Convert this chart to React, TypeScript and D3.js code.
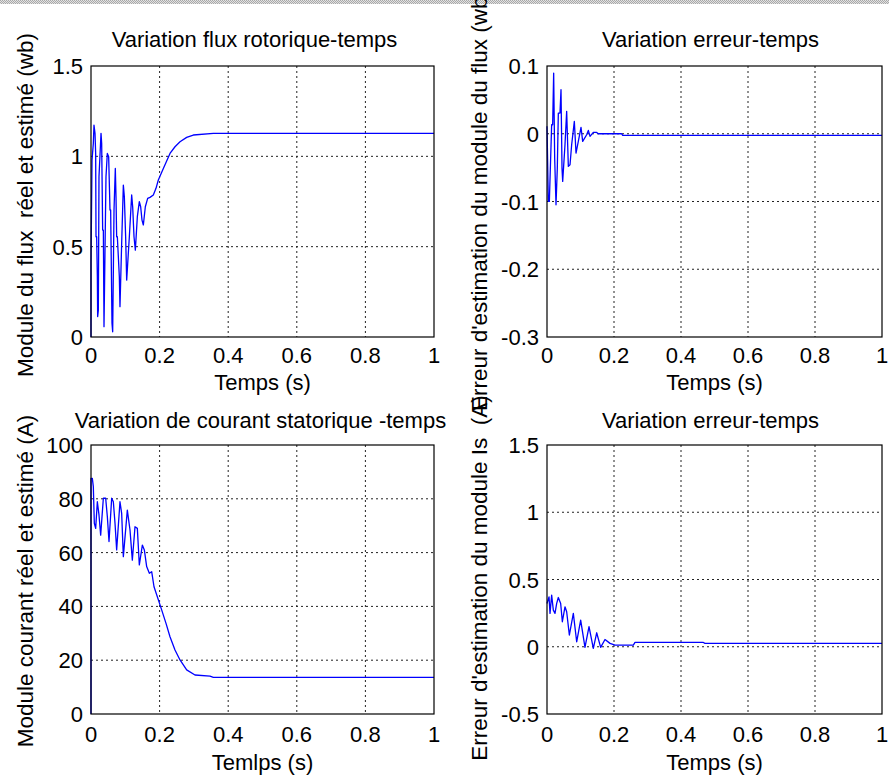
import React from 'react';
import * as d3 from 'd3';

// ---------- data ----------
const timeTicks = [0, 0.2, 0.4, 0.6, 0.8, 1];
const fluxTicks = [0, 0.5, 1, 1.5];
const fluxErrTicks = [-0.3, -0.2, -0.1, 0, 0.1];
const currTicks = [0, 20, 40, 60, 80, 100];
const currErrTicks = [-0.5, 0, 0.5, 1, 1.5];

const fluxTime = [0, 0, 0.003, 0.0068, 0.0087, 0.0117, 0.0136, 0.0146, 0.0165, 0.0185, 0.0194, 0.0214, 0.0233, 0.0292, 0.0311, 0.034, 0.036, 0.0379, 0.0437, 0.0476, 0.0515, 0.0554, 0.0573, 0.0612, 0.0632, 0.0671, 0.0709, 0.0729, 0.0748, 0.0768, 0.0826, 0.0845, 0.0894, 0.0943, 0.0972, 0.101, 0.104, 0.1118, 0.1186, 0.1215, 0.1254, 0.1293, 0.1351, 0.1409, 0.1448, 0.1487, 0.1526, 0.1584, 0.1652, 0.172, 0.1817, 0.1895, 0.1963, 0.2109, 0.2303, 0.2449, 0.2595, 0.2789, 0.2983, 0.3567, 1];
const fluxValue = [0, 0.408, 0.98, 1.072, 1.173, 1.127, 1.016, 0.555, 0.555, 0.334, 0.113, 0.149, 0.887, 1.127, 1.072, 0.592, 0.592, 0.057, 0.887, 1.016, 0.998, 0.703, 0.703, 0.076, 0.029, 0.703, 0.933, 0.777, 0.555, 0.555, 0.334, 0.168, 0.518, 0.841, 0.777, 0.555, 0.315, 0.555, 0.786, 0.721, 0.555, 0.481, 0.666, 0.749, 0.721, 0.647, 0.62, 0.721, 0.767, 0.773, 0.786, 0.823, 0.869, 0.933, 1.016, 1.053, 1.081, 1.105, 1.118, 1.127, 1.127];

const fluxErrTime = [0, 0.004, 0.007, 0.0139, 0.0169, 0.0199, 0.0229, 0.0269, 0.0308, 0.0338, 0.0388, 0.0418, 0.0448, 0.0468, 0.0537, 0.0587, 0.0637, 0.0687, 0.0736, 0.0816, 0.0866, 0.0935, 0.1015, 0.1065, 0.1184, 0.1234, 0.1284, 0.1383, 0.1483, 0.1532, 0.2229, 0.2259, 1];
const fluxErrValue = [0.011, -0.0999, -0.0999, 0.0133, 0.0133, 0.0896, -0.0359, -0.1048, -0.0507, 0.0305, 0.0305, 0.065, -0.0507, -0.0704, -0.0162, 0.033, -0.0482, -0.0458, -0.0162, 0.0182, -0.0285, -0.0113, 0.0094, -0.0113, -0.0015, 0.0049, -0.0039, 0.002, 0.002, 0, 0, -0.0025, -0.0025];

const currTime = [0, 0, 0.0039, 0.0068, 0.0097, 0.0136, 0.0185, 0.0233, 0.0282, 0.036, 0.0428, 0.0476, 0.0525, 0.0603, 0.0651, 0.07, 0.0748, 0.0845, 0.0894, 0.0943, 0.1059, 0.1137, 0.1205, 0.1283, 0.1351, 0.1409, 0.1497, 0.1555, 0.1623, 0.1701, 0.1769, 0.1837, 0.1934, 0.206, 0.2187, 0.2303, 0.2449, 0.2595, 0.2789, 0.3032, 0.3469, 0.3567, 1];
const currValue = [0, 87.6, 87.6, 84.5, 70.9, 69, 78.9, 74, 66.5, 80.2, 80.2, 73.4, 64.1, 80.2, 78.9, 70.9, 61, 78.9, 74.6, 58.5, 75.8, 68.4, 57.2, 69.6, 69, 55.4, 62.8, 61, 54.8, 52.3, 52.9, 47.3, 43.6, 38.7, 33.7, 28.7, 23.8, 20.1, 16.4, 14.5, 14.1, 13.6, 13.6];

const currErrTime = [0, 0.006, 0.009, 0.0139, 0.0189, 0.0239, 0.0289, 0.0338, 0.0408, 0.0458, 0.0537, 0.0587, 0.0667, 0.0786, 0.0886, 0.1005, 0.1134, 0.1254, 0.1383, 0.1483, 0.1602, 0.1731, 0.1881, 0.203, 0.2577, 0.2627, 0.4667, 0.4716, 1];
const currErrValue = [0.322, 0.371, 0.248, 0.384, 0.272, 0.248, 0.322, 0.366, 0.322, 0.186, 0.297, 0.26, 0.087, 0.248, 0.037, 0.198, -0.005, 0.149, -0.012, 0.104, -0.005, 0.054, 0.025, 0.012, 0.012, 0.032, 0.032, 0.025, 0.025];

const titles = ['Variation flux rotorique-temps', 'Variation erreur-temps', 'Variation de courant statorique -temps', 'Variation erreur-temps'];
const xLabels = ['Temps (s)', 'Temps (s)', 'Temlps (s)', 'Temps (s)'];
const yLabels = [
  'Module du flux  réel et estimé (wb)',
  "Erreur d'estimation du module du flux (wb)",
  'Module courant réel et estimé (A)',
  "Erreur d'estimation du module Is  (A)",
];

const FONT = '"Liberation Sans", Arial, Helvetica, sans-serif';

type PanelProps = {
  left: number; right: number; top: number; bottom: number;
  yDomain: [number, number]; yTicks: number[];
  time: number[]; values: number[];
  title: string; xLabel: string; yLabel: string;
  titleY: number; titleDx: number; xTickY: number; xLabelY: number;
  yLabelX: number; yLabelY: number;
};

function Panel(p: PanelProps) {
  const x = d3.scaleLinear().domain([0, 1]).range([p.left, p.right]);
  const y = d3.scaleLinear().domain(p.yDomain).range([p.bottom, p.top]);
  const line = d3.line<number>().x((_, i) => x(p.time[i])).y((v) => y(v));
  const cx = (p.left + p.right) / 2;
  return (
    <g fontFamily={FONT} fill="#000">
      {timeTicks.slice(1, -1).map((t) => (
        <line key={'gx' + t} x1={x(t)} x2={x(t)} y1={p.top} y2={p.bottom} stroke="#222" strokeWidth={1} strokeDasharray="2,3" />
      ))}
      {p.yTicks.slice(1, -1).map((t) => (
        <line key={'gy' + t} x1={p.left} x2={p.right} y1={y(t)} y2={y(t)} stroke="#222" strokeWidth={1} strokeDasharray="2,3" />
      ))}
      <path d={line(p.values) || ''} fill="none" stroke="#0000ff" strokeWidth={1.3} strokeLinejoin="round" />
      <rect x={p.left} y={p.top} width={p.right - p.left} height={p.bottom - p.top} fill="none" stroke="#000" strokeWidth={1.2} />
      {timeTicks.map((t) => (
        <text key={'tx' + t} x={x(t)} y={p.xTickY} fontSize={22} textAnchor="middle">{String(t)}</text>
      ))}
      {p.yTicks.map((t) => (
        <text key={'ty' + t} x={p.left - 8} y={y(t) + 8} fontSize={22} textAnchor="end">{String(t)}</text>
      ))}
      <text x={cx + p.titleDx} y={p.titleY} fontSize={22} textAnchor="middle">{p.title}</text>
      <text x={cx} y={p.xLabelY} fontSize={22} textAnchor="middle">{p.xLabel}</text>
      <text x={0} y={0} fontSize={22.5} textAnchor="middle" transform={`translate(${p.yLabelX},${p.yLabelY}) rotate(-90)`} style={{ whiteSpace: 'pre' }}>{p.yLabel}</text>
    </g>
  );
}

export default function App() {
  return (
    <svg width={889} height={778} style={{ position: 'absolute', left: 0, top: 0, background: '#fff' }}>
      <defs>
        <pattern id="hatch" width="2" height="2" patternUnits="userSpaceOnUse">
          <rect width="2" height="2" fill="#e2e2e2" />
          <rect width="1" height="1" fill="#a8a8a8" />
          <rect x="1" y="1" width="1" height="1" fill="#a8a8a8" />
        </pattern>
      </defs>
      <rect x={0} y={0} width={889} height={778} fill="#fff" />
      <rect x={0} y={0} width={889} height={4} fill="url(#hatch)" />
      <Panel left={91} right={434} top={66} bottom={337} yDomain={[0, 1.5]} yTicks={fluxTicks}
        time={fluxTime} values={fluxValue} title={titles[0]} xLabel={xLabels[0]} yLabel={yLabels[0]}
        titleY={47} titleDx={-8} xTickY={363} xLabelY={390} yLabelX={33} yLabelY={205} />
      <Panel left={547} right={882} top={66} bottom={337} yDomain={[-0.3, 0.1]} yTicks={fluxErrTicks}
        time={fluxErrTime} values={fluxErrValue} title={titles[1]} xLabel={xLabels[1]} yLabel={yLabels[1]}
        titleY={47} titleDx={-4} xTickY={363} xLabelY={390} yLabelX={487} yLabelY={200} />
      <Panel left={91} right={434} top={445} bottom={714} yDomain={[0, 100]} yTicks={currTicks}
        time={currTime} values={currValue} title={titles[2]} xLabel={xLabels[2]} yLabel={yLabels[2]}
        titleY={428} titleDx={-2} xTickY={742} xLabelY={770} yLabelX={33} yLabelY={581} />
      <Panel left={547} right={882} top={445} bottom={714} yDomain={[-0.5, 1.5]} yTicks={currErrTicks}
        time={currErrTime} values={currErrValue} title={titles[3]} xLabel={xLabels[3]} yLabel={yLabels[3]}
        titleY={428} titleDx={-4} xTickY={742} xLabelY={770} yLabelX={487} yLabelY={578} />
    </svg>
  );
}
